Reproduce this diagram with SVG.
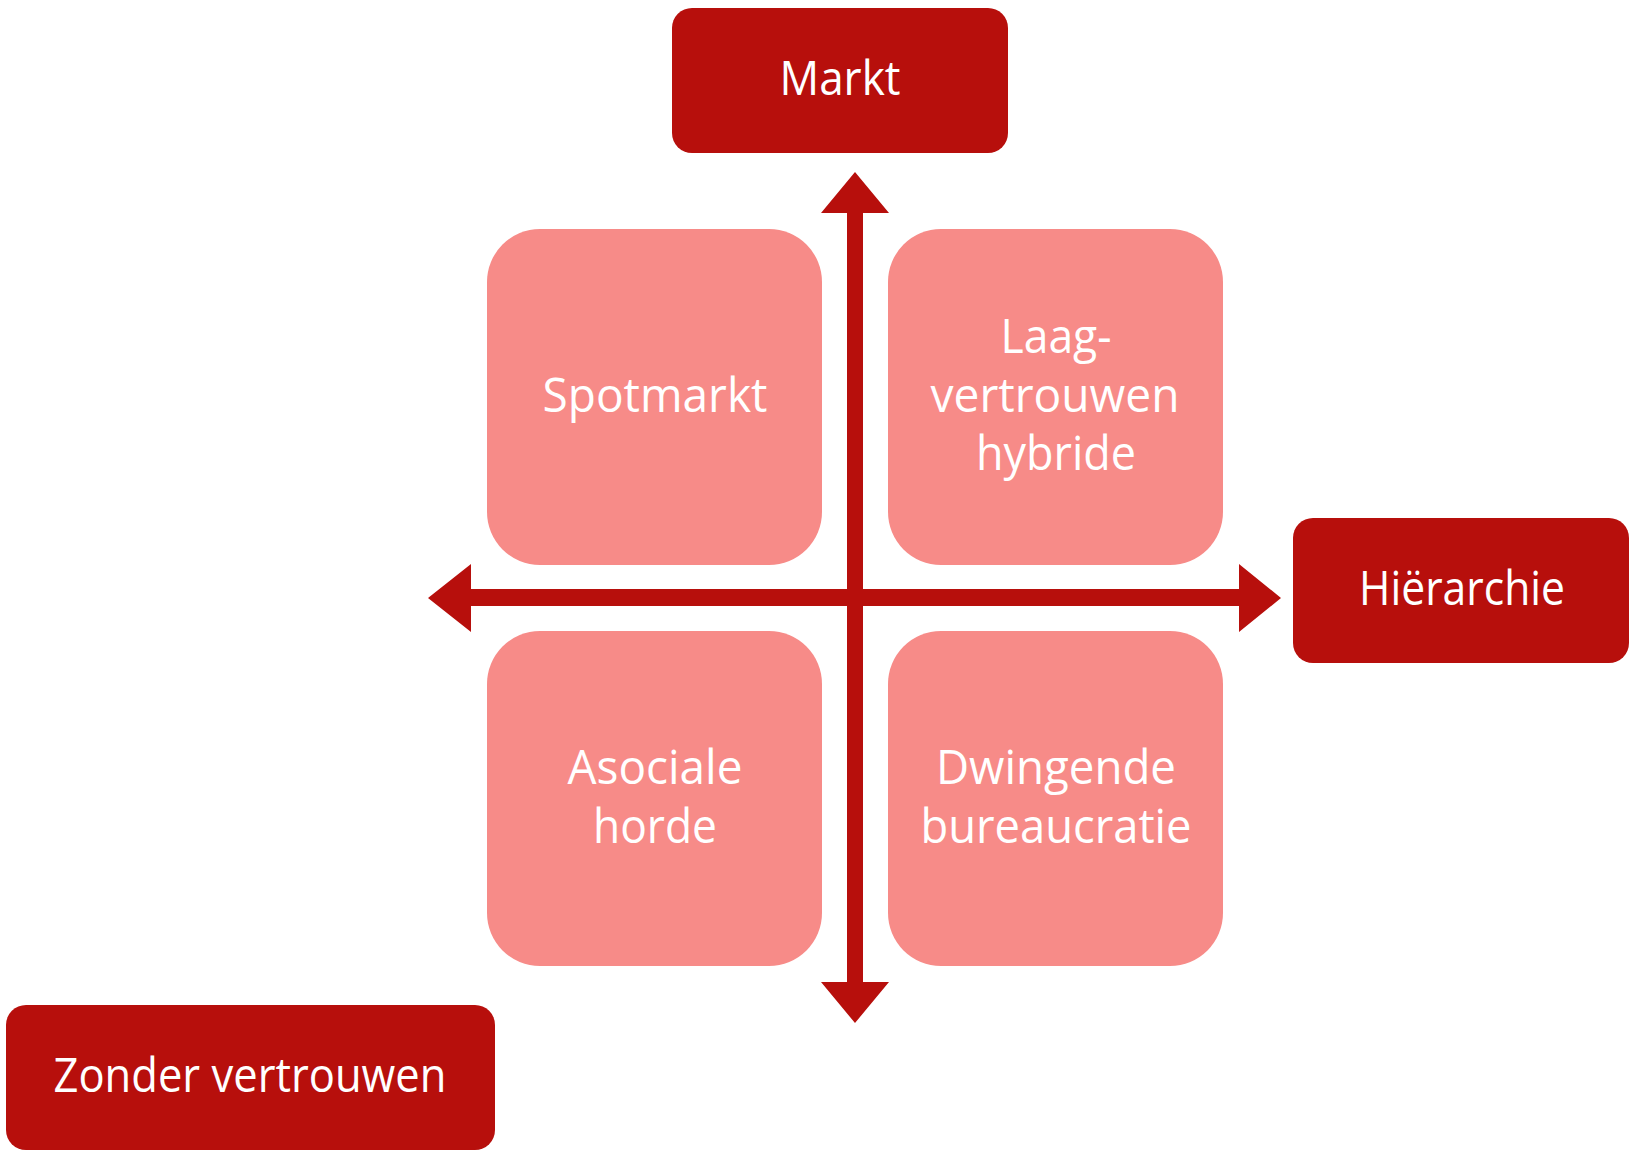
<svg xmlns="http://www.w3.org/2000/svg" width="1633" height="1152" viewBox="0 0 1633 1152">
  <style>
    .dark { fill: #B70F0C; }
    .light { fill: #F78B88; }
    .lbl { font-family: "Open Sans", "Noto Sans", "Liberation Sans", sans-serif; font-size: 47px; fill: #FFFFFF; text-anchor: middle; }
    .axis { fill: #B70F0C; }
  </style>
  <rect width="1633" height="1152" fill="#FFFFFF"/>

  <g id="connectors">
    <path class="axis" d="M855,172 L889,213 L863,213 L863,982 L889,982 L855,1023 L821,982 L847,982 L847,213 L821,213 Z"/>
    <path class="axis" d="M428,598 L471,564 L471,589 L1239,589 L1239,564 L1281,598 L1239,632 L1239,606 L471,606 L471,632 Z"/>
  </g>

  <g id="node-markt">
    <rect class="dark" x="672" y="8" width="336" height="145" rx="20"/>
    <text class="lbl" x="840" y="95" textLength="121" lengthAdjust="spacingAndGlyphs">Markt</text>
  </g>

  <g id="node-hierarchie">
    <rect class="dark" x="1293" y="518" width="336" height="145" rx="20"/>
    <text class="lbl" x="1462" y="605" textLength="206" lengthAdjust="spacingAndGlyphs">Hiërarchie</text>
  </g>

  <g id="node-zonder-vertrouwen">
    <rect class="dark" x="6" y="1005" width="489" height="145" rx="20"/>
    <text class="lbl" x="250" y="1092" textLength="393" lengthAdjust="spacingAndGlyphs">Zonder vertrouwen</text>
  </g>

  <g id="node-spotmarkt">
    <rect class="light" x="487" y="229" width="335" height="336" rx="53"/>
    <text class="lbl" x="655" y="412" textLength="225" lengthAdjust="spacingAndGlyphs">Spotmarkt</text>
  </g>

  <g id="node-laag-vertrouwen-hybride">
    <rect class="light" x="888" y="229" width="335" height="336" rx="53"/>
    <text class="lbl" x="1056" y="353" textLength="111" lengthAdjust="spacingAndGlyphs">Laag-</text>
    <text class="lbl" x="1055" y="412" textLength="249" lengthAdjust="spacingAndGlyphs">vertrouwen</text>
    <text class="lbl" x="1056" y="470" textLength="160" lengthAdjust="spacingAndGlyphs">hybride</text>
  </g>

  <g id="node-asociale-horde">
    <rect class="light" x="487" y="631" width="335" height="335" rx="53"/>
    <text class="lbl" x="655" y="784" textLength="175" lengthAdjust="spacingAndGlyphs">Asociale</text>
    <text class="lbl" x="655" y="843" textLength="124" lengthAdjust="spacingAndGlyphs">horde</text>
  </g>

  <g id="node-dwingende-bureaucratie">
    <rect class="light" x="888" y="631" width="335" height="335" rx="53"/>
    <text class="lbl" x="1056" y="784" textLength="240" lengthAdjust="spacingAndGlyphs">Dwingende</text>
    <text class="lbl" x="1056" y="843" textLength="271" lengthAdjust="spacingAndGlyphs">bureaucratie</text>
  </g>
</svg>
